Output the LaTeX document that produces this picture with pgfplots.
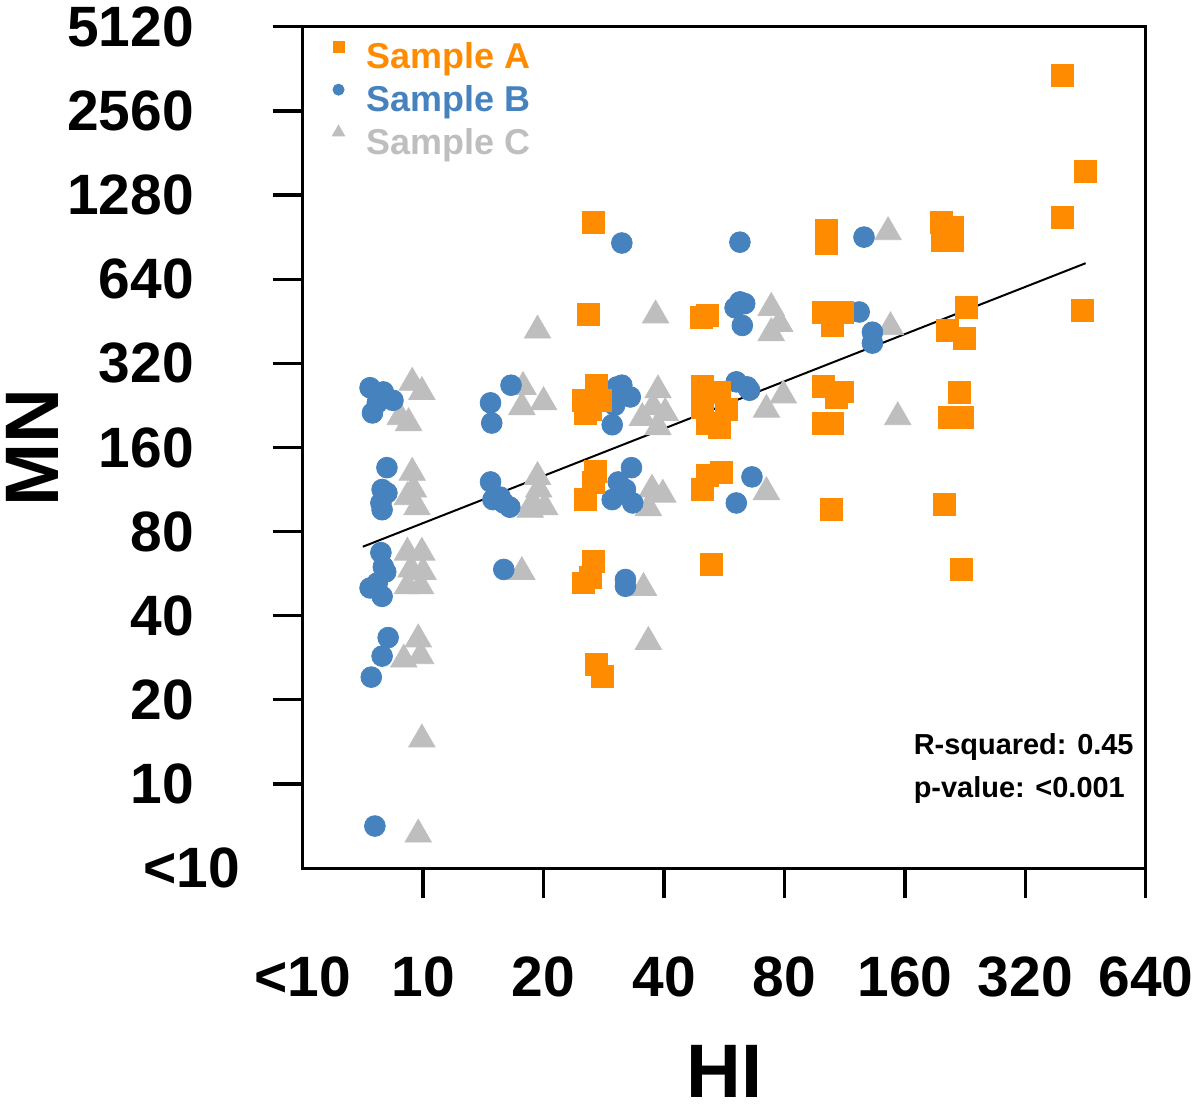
\documentclass[border=0pt]{standalone}
\usepackage{fontspec}
\setmainfont{Liberation Sans}
\usepackage{pgfplots}
\pgfplotsset{compat=1.18}
\definecolor{cA}{RGB}{255,140,0}
\definecolor{cB}{RGB}{70,130,190}
\definecolor{cC}{RGB}{190,190,190}
\begin{document}
\begin{tikzpicture}
\begin{axis}[
  scale only axis, width=422.5pt, height=421.5pt,
  xmin=0, xmax=7, ymin=0, ymax=10,
  axis line style={line width=1.6pt},
  xtick={1,...,7}, xticklabels={10,20,40,80,160,320,640},
  ytick={1,...,10}, yticklabels={10,20,40,80,160,320,640,1280,2560,5120},
  extra x ticks={0}, extra x tick labels={<10},
  extra y ticks={0}, extra y tick labels={<10},
  extra x tick style={major tick length=0pt, xticklabel style={yshift=-15pt}},
  extra y tick style={major tick length=0pt, yticklabel style={xshift=8pt}},
  tick align=outside, major tick length=15pt,
  tick style={line width=1.6pt, black},
  xtick pos=bottom, ytick pos=left,
  ticklabel style={font=\fontsize{28.5}{30}\selectfont\bfseries},
  xticklabel style={yshift=-26pt},
  yticklabel style={xshift=-36pt},
  xlabel={HI}, ylabel={MN},
  label style={font=\fontsize{38}{40}\selectfont\bfseries},
  xlabel style={at={(axis description cs:0.5,-0.242)}, anchor=center, inner sep=6pt},
  ylabel style={at={(axis description cs:-0.32,0.5)}, anchor=center},
  legend style={at={(axis description cs:0,1)}, anchor=north west,
    xshift=14pt, yshift=-6.5pt, draw=none, fill=none, inner sep=0pt, outer sep=0pt,
    font=\fontsize{18}{21}\selectfont\bfseries, row sep=1.9pt, column sep=3pt,
    nodes={inner sep=1pt, text height=13pt, text depth=4pt}},
  legend image code/.code={\path[draw=none, fill=none] (-4pt,2pt) rectangle (10pt,10pt); \draw[#1] plot coordinates {(0pt,6.4pt)};},
  legend cell align=left,
  clip=false,
]
\addlegendimage{only marks, mark=square*, mark size=2.8pt, cA}
\addlegendentry{\textcolor{cA}{Sample A}}
\addlegendimage{only marks, mark=*, mark size=2.8pt, cB}
\addlegendentry{\textcolor{cB}{Sample B}}
\addlegendimage{only marks, mark=triangle*, mark size=3.6pt, cC}
\addlegendentry{\textcolor{cC}{Sample C}}

% Sample C
\addplot[forget plot, only marks, mark=triangle*, mark size=7.6pt, color=cC] coordinates {
(1.95,6.39) (2.93,6.57) (3.89,6.66) (3.96,6.47) (3.89,6.36) (4.88,6.43) (4.86,7.56)
(0.91,5.77) (0.99,5.66) (0.81,5.36) (0.88,5.29)
(1.83,5.72) (1.82,5.48) (2.00,5.54)
(2.95,5.68) (2.82,5.35) (3.01,5.41) (2.91,5.48) (2.95,5.24)
(3.99,5.62) (3.85,5.45) (4.94,5.36)
(0.91,4.70) (0.92,4.50) (0.95,4.29) (0.87,4.41)
(1.95,4.65) (1.96,4.50) (1.91,4.34) (2.01,4.29) (1.89,4.26)
(2.90,4.50) (2.99,4.44) (2.87,4.28) (3.85,4.47)
(0.87,3.75) (0.99,3.75) (0.90,3.55) (1.00,3.52) (0.87,3.35) (0.98,3.35)
(1.82,3.52) (2.83,3.33)
(0.84,2.48) (0.96,2.72) (0.98,2.52) (2.87,2.69)
(0.99,1.53) (0.96,0.40)
};
% Sample B
\addplot[forget plot, only marks, mark=*, mark size=5.2pt, color=cB] coordinates {
(2.65,7.43) (3.63,7.44) (4.66,7.50)
(3.63,6.73) (3.67,6.71) (3.59,6.66) (3.65,6.45) (4.62,6.61) (4.73,6.37) (4.73,6.24)
(0.56,5.71) (0.67,5.66) (0.75,5.56) (0.58,5.41) (0.62,5.53)
(1.56,5.53) (1.57,5.29) (1.73,5.74)
(2.61,5.72) (2.72,5.60) (2.59,5.50) (2.57,5.27) (2.65,5.74)
(3.60,5.78) (3.69,5.72) (3.71,5.68)
(0.70,4.76) (0.66,4.50) (0.65,4.34) (0.66,4.26) (0.70,4.46)
(1.56,4.59) (1.58,4.38) (1.67,4.34) (1.72,4.29) (1.64,4.41)
(2.73,4.76) (2.62,4.59) (2.57,4.38) (2.74,4.34) (2.68,4.50)
(3.73,4.65) (3.60,4.34)
(0.65,3.75) (0.67,3.58) (0.62,3.39) (0.56,3.33) (0.66,3.23) (0.69,3.52)
(1.67,3.55) (2.68,3.43) (2.68,3.35)
(0.71,2.74) (0.66,2.52) (0.57,2.27)
(0.60,0.50)
};
% Sample A
\addplot[forget plot, only marks, mark=square*, mark size=5.5pt, color=cA] coordinates {
(2.41,7.68) (4.35,7.58) (4.35,7.43) (5.30,7.68) (5.39,7.62) (5.31,7.46) (5.39,7.46) (6.31,9.42) (6.50,8.28) (6.31,7.73)
(2.37,6.58) (3.31,6.55) (3.36,6.57) (4.32,6.60) (4.48,6.61) (4.40,6.45) (5.51,6.66) (5.35,6.39) (5.49,6.30) (6.47,6.63)
(2.44,5.74) (2.33,5.56) (2.35,5.41) (2.47,5.56) (2.39,5.45)
(3.32,5.72) (3.46,5.65) (3.32,5.48) (3.52,5.45) (3.36,5.29) (3.46,5.24)
(4.32,5.72) (4.48,5.66) (4.43,5.59) (4.32,5.29) (4.40,5.29)
(5.45,5.65) (5.37,5.36) (5.48,5.36)
(2.43,4.71) (2.41,4.58) (2.35,4.38) (3.36,4.67) (3.48,4.70) (3.32,4.50) (4.39,4.26) (5.33,4.32)
(2.41,3.65) (2.39,3.46) (2.33,3.39) (3.39,3.61) (5.47,3.55)
(2.44,2.42) (2.49,2.28)
};
% regression line
\addplot[forget plot, black, line width=1pt] coordinates {(0.50,3.82) (6.50,7.19)};

\node[anchor=base west, font=\fontsize{14.5}{16}\selectfont\bfseries, inner sep=0pt] at (axis cs:5.07,1.35) {R-squared: 0.45};
\node[anchor=base west, font=\fontsize{14.5}{16}\selectfont\bfseries, inner sep=0pt] at (axis cs:5.07,0.84) {p-value: <0.001};
\path (axis description cs:0.5,-0.292);
\end{axis}
\end{tikzpicture}
\end{document}
